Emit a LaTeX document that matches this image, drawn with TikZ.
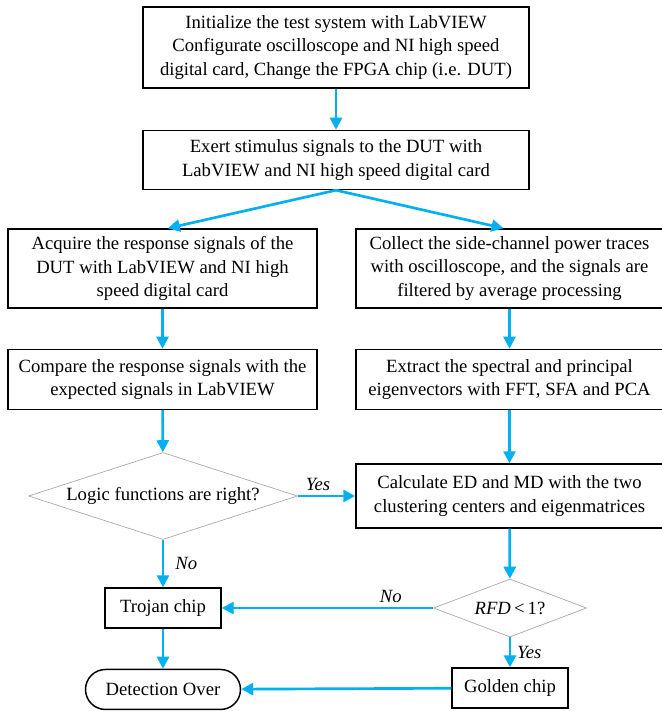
\documentclass[tikz,border=0pt]{standalone}
\usepackage{fontspec}
\setmainfont{Liberation Serif}
\usepackage{xcolor}
\usetikzlibrary{arrows.meta, positioning, shapes.geometric}
\definecolor{flowblue}{HTML}{00B0F0}

\begin{document}
\begin{tikzpicture}[
  x=0.75pt, y=-0.75pt,
  font=\fontsize{14}{17.8}\selectfont,
  block/.style={draw, rectangle, line width=1.1pt, align=center, inner sep=0pt},
  decision/.style={draw=gray!70, diamond, line width=0.5pt, aspect=3, inner sep=0pt, align=center},
  term/.style={draw, rectangle, rounded corners=15pt, line width=1.1pt, inner sep=0pt},
  arr/.style={-{Triangle[length=9pt, width=9pt]}, line width=2pt, flowblue},
  lbl/.style={text=black, font=\fontsize{14}{17}\selectfont\itshape},
  node distance=30pt
]
\useasboundingbox (0,0) rectangle (661,711);

\node[block, minimum width=289.5pt, minimum height=60.75pt] (init) at (336,47.5)
  {Initialize the test system with LabVIEW\\Configurate oscilloscope and NI high speed\\digital card, Change the FPGA chip (i.e. DUT)};
\node[block, minimum width=289.5pt, minimum height=44.25pt, below=30.75pt of init] (exert)
  {Exert stimulus signals to the DUT with\\LabVIEW and NI high speed digital card};

% left column
\node[block, minimum width=231.75pt, minimum height=59.25pt] (acq) at (162.5,268.5)
  {Acquire the response signals of the\\DUT with LabVIEW and NI high\\speed digital card};
\node[block, minimum width=231.75pt, minimum height=45pt, below=of acq] (comp)
  {Compare the response signals with the\\expected signals in LabVIEW};
\node[decision, minimum width=201.75pt, minimum height=65.25pt] (logic) at (163,496)
  {Logic functions are right?};
\node[block, minimum width=87pt, minimum height=30pt] (trojan) at (163,608) {Trojan chip};
\node[term, minimum width=116.25pt, minimum height=30pt, below=of trojan] (over) {Detection Over};

% right column
\node[block, minimum width=230.25pt, minimum height=59.25pt] (coll) at (509.5,268.5)
  {Collect the side-channel power traces\\with oscilloscope, and the signals are\\filtered by average processing};
\node[block, minimum width=230.25pt, minimum height=45pt, below=of coll] (extr)
  {Extract the spectral and principal\\eigenvectors with FFT, SFA and PCA};
\node[block, minimum width=230.25pt, minimum height=48pt] (calc) at (509.5,496)
  {Calculate ED and MD with the two\\clustering centers and eigenmatrices};
\node[decision, aspect=2, minimum width=114.75pt, minimum height=43.5pt] (rfd) at (510,608)
  {\textit{RFD}\,<\,1?};
\node[block, minimum width=87pt, minimum height=30pt] (golden) at (510,688) {Golden chip};

\draw[arr] (init) -- (exert);
\draw[arr] (exert.south) -- ([xshift=4pt]acq.north);
\draw[arr] (exert.south) -- ([xshift=-4.5pt]coll.north);
\draw[arr] (acq) -- (comp);
\draw[arr] (comp) -- (logic);
\draw[arr] (logic) -- node[lbl, right=5pt] {No} (trojan);
\draw[arr] (logic) -- node[lbl, above, pos=0.35] {Yes} (calc);
\draw[arr] (coll) -- (extr);
\draw[arr] (extr) -- (calc);
\draw[arr] (calc) -- (rfd);
\draw[arr] (rfd) -- node[lbl, above, pos=0.2] {No} (trojan);
\draw[arr] (rfd) -- node[lbl, right=1pt] {Yes} (golden);
\draw[arr] (trojan) -- (over);
\draw[arr] (golden) -- (over);
\end{tikzpicture}
\end{document}
